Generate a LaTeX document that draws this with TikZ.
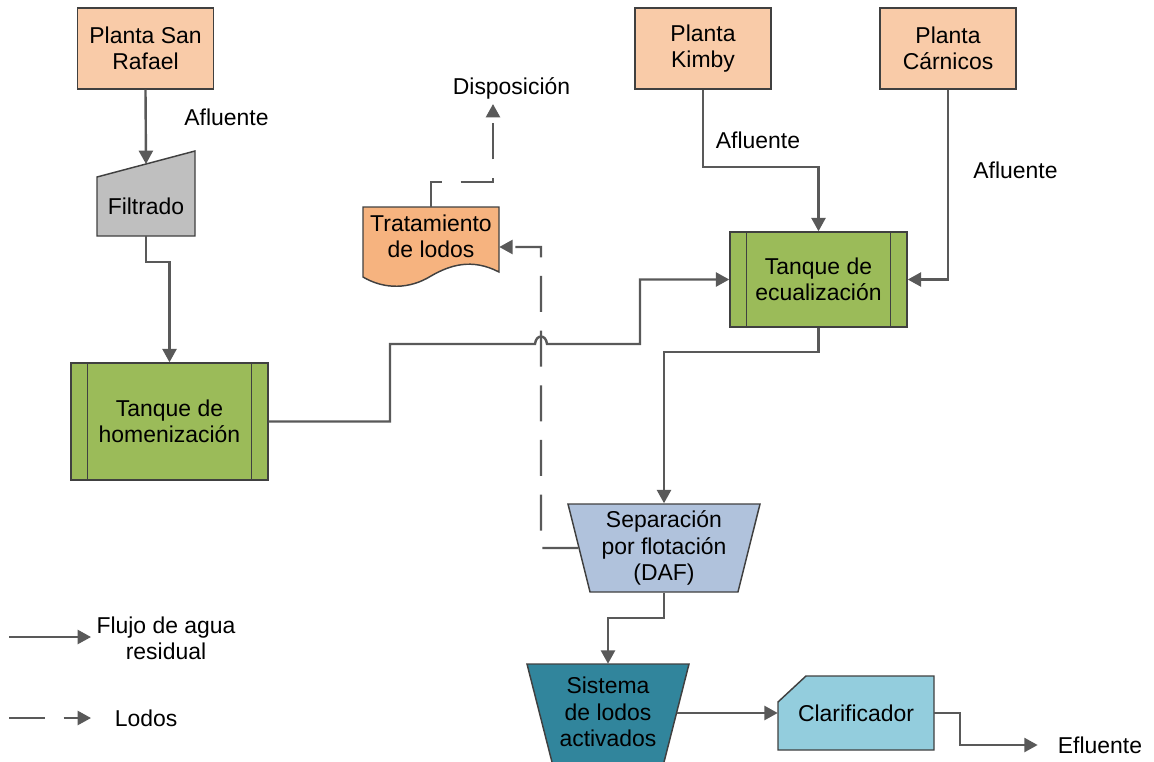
\documentclass[tikz,border=0pt]{standalone}
\usepackage{fontspec}
\setmainfont{Liberation Sans}
\usetikzlibrary{arrows.meta,shapes.geometric}
\definecolor{peach}{HTML}{F9CBA8}
\definecolor{sludgeorange}{HTML}{F6B37F}
\definecolor{filtergray}{HTML}{BFBFBF}
\definecolor{tankgreen}{HTML}{9BBB59}
\definecolor{dafblue}{HTML}{B0C2DC}
\definecolor{activeteal}{HTML}{31859C}
\definecolor{clarblue}{HTML}{93CDDD}
\definecolor{flowgray}{HTML}{595959}
\definecolor{edgegray}{HTML}{404040}

\begin{document}
\begin{tikzpicture}[x=0.75pt,y=-0.75pt,
  font=\fontsize{17.2}{19.8}\selectfont,
  box/.style={draw=edgegray, line width=1.1pt, align=center, inner sep=0pt},
  shapeline/.style={draw=edgegray, line width=1.1pt},
  plant/.style={box, fill=peach, minimum width=102pt, minimum height=60.75pt},
  tank/.style={box, fill=tankgreen, path picture={
     \draw[edgegray, line width=1.1pt]
       ([xshift=12.5pt]path picture bounding box.north west) -- ([xshift=12.5pt]path picture bounding box.south west)
       ([xshift=-12.5pt]path picture bounding box.north east) -- ([xshift=-12.5pt]path picture bounding box.south east);}},
  basin/.style={box, trapezium, trapezium stretches body},
  plain/.style={inner sep=0pt, align=center},
  flow/.style={draw=flowgray, line width=1.8pt, -{Triangle[length=10pt,width=10.5pt]}},
  sludge/.style={flow, dash pattern=on 27pt off 14pt}
]
\useasboundingbox (0,0) rectangle (1154,761);

% sources
\node[plant] (sanrafael) at (145.5,48.5) {Planta San\\Rafael};
\node[plant] (kimby) at (703,48.5) {Planta\\Kimby};
\node[plant] (carnicos) at (948,48.5) {Planta\\C\'arnicos};

% screening (manual input shape)
\filldraw[shapeline, fill=filtergray] (97,177) -- (195,151) -- (195,236) -- (97,236) -- cycle;
\node[plain, minimum width=73.5pt, minimum height=44.25pt] (filtrado) at (146,206.5) {Filtrado};
\coordinate (filtroin) at (146,164);

% tanks
\node[tank, minimum width=147.75pt, minimum height=87.75pt] (homen) at (169.5,421.5) {Tanque de\\homenizaci\'on};
\node[tank, minimum width=132.75pt, minimum height=71.25pt] (ecual) at (818.5,279.5) {Tanque de\\ecualizaci\'on};

% flotation unit
\node[basin, trapezium left angle=106.5, trapezium right angle=106.5,
      minimum width=144pt, minimum height=66pt, fill=dafblue] (daf) at (664,548)
      {Separaci\'on\\por flotaci\'on\\(DAF)};

% activated sludge basin (runs past the lower edge)
\filldraw[shapeline, fill=activeteal] (527,664) -- (689,664) -- (662,770) -- (554,770) -- cycle;
\node[plain, minimum width=103.5pt, minimum height=72pt] (sistema) at (608,712) {Sistema\\de lodos\\activados};

% clarifier (cut corner)
\filldraw[shapeline, fill=clarblue] (778,702) -- (806,676) -- (934,676) -- (934,750) -- (778,750) -- cycle;
\node[plain, minimum width=117pt, minimum height=55.5pt] (clar) at (856,713) {Clarificador};

% sludge treatment (document shape)
\filldraw[shapeline, fill=sludgeorange] (363,207) -- (499,207) -- (499,272)
  .. controls (472,258) and (450,265) .. (431,276)
  .. controls (410,289) and (385,290) .. (363,277) -- cycle;
\node[plain, minimum width=102pt, minimum height=60pt] (tratamiento) at (431,247) {};
\node[plain] (tratlabel) at (431,236) {Tratamiento\\de lodos};

% labels
\node[plain] (afl1) at (226.5,117) {Afluente};
\node[plain] (afl2) at (758,140) {Afluente};
\node[plain] (afl3) at (1015.5,170.5) {Afluente};
\node[plain] (disp) at (511.5,88) {Disposici\'on};
\coordinate (dispin) at (493,104);
\node[plain] (eflu) at (1100,745) {Efluente};

% legend
\coordinate (legA) at (9,637);
\coordinate (legB) at (91,637);
\coordinate (legC) at (9,718);
\coordinate (legD) at (91,718);
\node[plain] (flujo) at (166,638) {Flujo de agua\\residual};
\node[plain] (lodos) at (146,718) {Lodos};

% wastewater flow
\draw[flow] (sanrafael.south) -- (filtroin);
\draw[flow] (filtrado.south) -- ++(0,26) -| (homen.north);
\draw[flow] (homen.east) -| (390,344) -- (535,344)
  .. controls (536,334) and (546,334) .. (547,344) -- (640,344) |- (ecual.west);
\draw[flow] (kimby.south) -- ++(0,77) -| (ecual.north);
\draw[flow] (carnicos.south) |- (ecual.east);
\draw[flow] (ecual.south) -- ++(0,24) -| (daf.north);
\draw[flow] (daf.south) -- ++(0,25) -| (sistema.north);
\draw[flow] (sistema.east |- clar.west) -- (clar.west);
\draw[flow] (clar.east) -- ++(26,0) |- ([xshift=-15pt]eflu.west);

% sludge lines
\draw[sludge] (daf.west) -- (541,548) |- (tratamiento.east);
\draw[sludge] (tratamiento.north) -- ++(0,-25) -| (dispin);

% legend arrows
\draw[flow] (legA) -- (legB);
\draw[sludge] (legC) -- (legD);
\end{tikzpicture}
\end{document}
